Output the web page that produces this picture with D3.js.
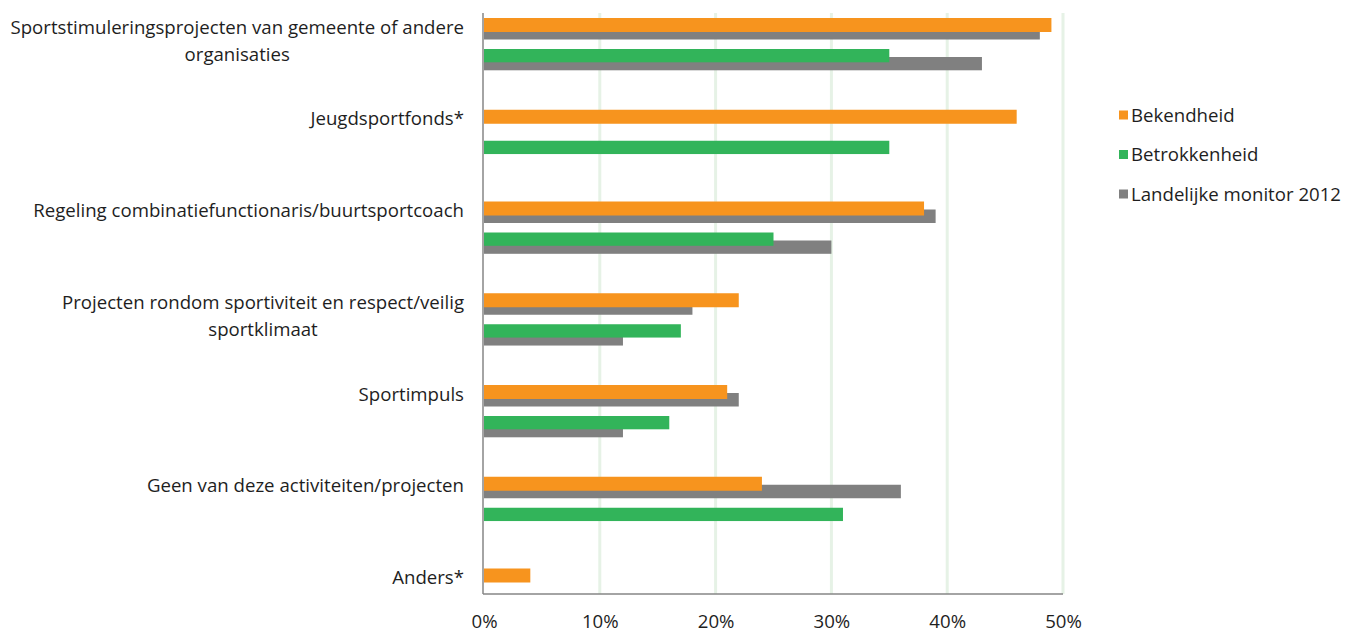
<!DOCTYPE html>
<html>
<head>
<meta charset="utf-8">
<script src="https://cdn.jsdelivr.net/npm/d3@7"></script>
<style>
  html, body { margin: 0; padding: 0; background: #fff; }
  svg text { font-family: "Open Sans", "Noto Sans", sans-serif; fill: #1e1e1e; }
</style>
</head>
<body>
<svg id="chart" width="1345" height="629"></svg>
<script>
// ---- data ----
const categories = [
  ["Sportstimuleringsprojecten van gemeente of andere", "organisaties"],
  ["Jeugdsportfonds*"],
  ["Regeling combinatiefunctionaris/buurtsportcoach"],
  ["Projecten rondom sportiviteit en respect/veilig", "sportklimaat"],
  ["Sportimpuls"],
  ["Geen van deze activiteiten/projecten"],
  ["Anders*"]
];
const bekendheid        = [0.49, 0.46, 0.38, 0.22, 0.21, 0.24, 0.04];
const bekendheidMonitor = [0.48, null, 0.39, 0.18, 0.22, 0.36, null];
const betrokkenheid     = [0.35, 0.35, 0.25, 0.17, 0.16, 0.31, null];
const betrokkenMonitor  = [0.43, null, 0.30, 0.12, 0.12, null, null];
const xTicks = [0, 0.1, 0.2, 0.3, 0.4, 0.5];
const legendItems = ["Bekendheid", "Betrokkenheid", "Landelijke monitor 2012"];

const colors = { orange: "#F7941E", green: "#32B45A", gray: "#808080" };
const legendColors = [colors.orange, colors.green, colors.gray];

// ---- layout ----
const svg = d3.select("#chart");
const plotTop = 13, plotBottom = 594;
const x = d3.scaleLinear().domain([0, 0.5]).range([484, 1063]);
const keys = categories.map((c, i) => i);
const step = 91.75;
const y = d3.scaleBand().domain(keys).range([18, 18 + step * keys.length]).padding(0);

// gridlines
svg.append("g").selectAll("line").data(xTicks.slice(1)).join("line")
  .attr("x1", d => x(d)).attr("x2", d => x(d))
  .attr("y1", plotTop).attr("y2", plotBottom)
  .attr("stroke", "#e6f2e6").attr("stroke-width", 3);

// bars
const g = svg.append("g");
function bars(values, offset, h, color, cls) {
  g.append("g").attr("class", cls).selectAll("rect")
    .data(values.map((v, i) => ({ v, i })).filter(d => d.v != null))
    .join("rect")
    .attr("x", x(0))
    .attr("y", d => y(d.i) + offset)
    .attr("width", d => x(d.v) - x(0))
    .attr("height", h)
    .attr("fill", color);
}
bars(bekendheidMonitor, 8, 13.5, colors.gray, "m1");
bars(betrokkenMonitor, 39, 13.3, colors.gray, "m2");
bars(bekendheid, 0, 14, colors.orange, "bek");
bars(betrokkenheid, 31, 13.3, colors.green, "bet");

// axes lines
svg.append("line").attr("x1", 483).attr("x2", 483).attr("y1", plotTop).attr("y2", plotBottom)
  .attr("stroke", "#868686").attr("stroke-width", 1.5);
svg.append("line").attr("x1", 483).attr("x2", x(0.5)).attr("y1", plotBottom).attr("y2", plotBottom)
  .attr("stroke", "#868686").attr("stroke-width", 1.5);

// x tick labels via axis
const xAxis = svg.append("g").attr("transform", `translate(0,${plotBottom})`)
  .call(d3.axisBottom(x).tickValues(xTicks).tickFormat(d3.format(".0%")).tickSize(0).tickPadding(0));
xAxis.select(".domain").remove();
xAxis.selectAll("text").attr("y", 27).attr("dy", "0.35em")
  .attr("font-size", 16).attr("fill", "#1e1e1e")
  .style("font-family", '"Open Sans", "Noto Sans", sans-serif');

// category labels
const fs = 16;
const lab = svg.append("g");
categories.forEach((lines, i) => {
  const t = lab.append("text").attr("text-anchor", "middle").attr("font-size", fs);
  lines.forEach((ln, j) => {
    t.append("tspan").attr("x", 0).attr("y", y(i) + 9 + j * 27).attr("dy", "0.35em").text(ln);
  });
});
// fit label size: longest line should span ~431px for "Regeling..."
const ref = lab.selectAll("text").nodes()[2];
const w = ref.getComputedTextLength();
const scale = 431 / w;
const newFs = fs * scale;
lab.selectAll("text").attr("font-size", newFs);
// position: each line center-aligned within block whose right edge is at 464
lab.selectAll("text").each(function () {
  const tspans = d3.select(this).selectAll("tspan");
  let maxW = 0;
  tspans.each(function () { maxW = Math.max(maxW, this.getComputedTextLength()); });
  tspans.attr("x", 464 - maxW / 2);
});
xAxis.selectAll("text").attr("font-size", newFs);

// legend
const leg = svg.append("g");
legendItems.forEach((name, i) => {
  const cy = 115 + i * 39.5;
  leg.append("rect").attr("x", 1119).attr("y", cy - 4.5).attr("width", 9).attr("height", 9)
    .attr("fill", legendColors[i]);
  leg.append("text").attr("x", 1131).attr("y", cy).attr("dy", "0.35em")
    .attr("font-size", newFs).text(name);
});
</script>
</body>
</html>
